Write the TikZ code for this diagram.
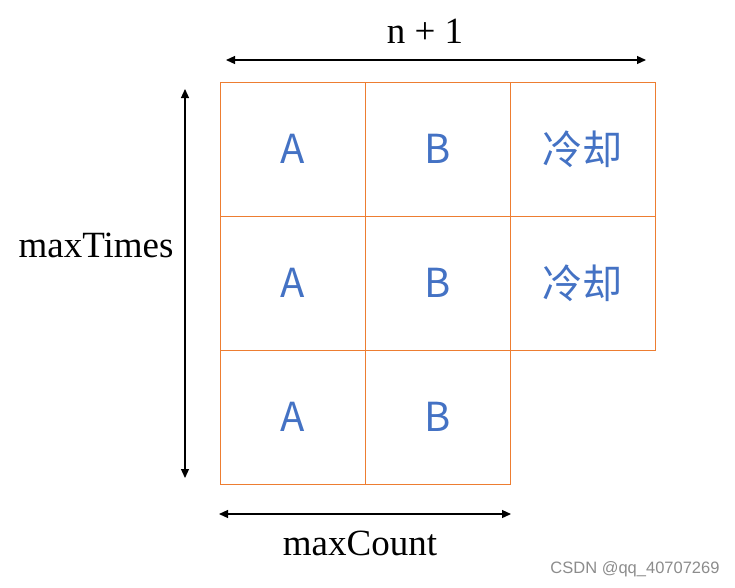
\documentclass[tikz,border=0pt]{standalone}
\usepackage{fontspec}
\setmainfont{Liberation Serif}
\newfontfamily\cjk{Noto Sans CJK SC}
\newfontfamily\wmfont{Liberation Sans}
\usetikzlibrary{arrows.meta}
\definecolor{gridorange}{HTML}{ED7D31}
\definecolor{cellblue}{HTML}{4472C4}
\begin{document}
\begin{tikzpicture}[x=1pt,y=-1pt,
  cell/.style={draw=gridorange,line width=0.9pt,minimum width=145pt,minimum height=134pt,inner sep=0pt,
    font=\cjk\fontsize{40}{42}\selectfont,text=cellblue},
  dim/.style={line width=1.2pt,{Triangle[length=9pt,width=8pt]}-{Triangle[length=9pt,width=8pt]}},
  lab/.style={font=\fontsize{37}{40}\selectfont,inner sep=0pt}]
\useasboundingbox (0,0) rectangle (735,587);
\node[cell] (a1) at (292.5,149) {A};
\node[cell] (b1) at (437.5,149) {B};
\node[cell] (c1) at (582.5,149) {冷却};
\node[cell] (a2) at (292.5,283) {A};
\node[cell] (b2) at (437.5,283) {B};
\node[cell] (c2) at (582.5,283) {冷却};
\node[cell] (a3) at (292.5,417) {A};
\node[cell] (b3) at (437.5,417) {B};
\coordinate (tl) at (226,60);
\coordinate (tr) at (646,60);
\coordinate (vt) at (185,89);
\coordinate (vb) at (185,478);
\coordinate (bl) at (219,514);
\coordinate (br) at (511,514);
\draw[dim] (tl) -- (tr);
\draw[dim] (vt) -- (vb);
\draw[dim] (bl) -- (br);
\node[lab] (n1) at (425,31) {n + 1};
\node[lab] (mt) at (96,245) {maxTimes};
\node[lab] (mc) at (360,543) {maxCount};
\node[font=\wmfont\fontsize{16.5}{18}\selectfont,text=black!45,inner sep=0pt] (wm) at (635,569) {CSDN @qq\_40707269};
\end{tikzpicture}
\end{document}
